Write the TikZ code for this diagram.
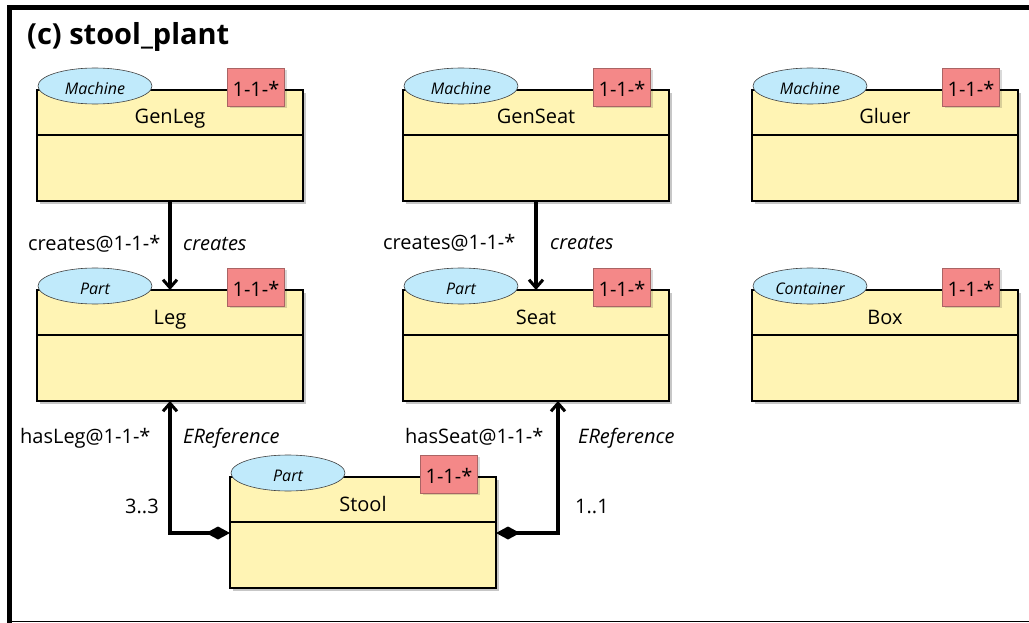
\documentclass[tikz,border=0pt]{standalone}
\usepackage{fontspec}
\setmainfont{Open Sans}
\usetikzlibrary{arrows.meta,shapes.geometric,shadows}
\definecolor{clsfill}{RGB}{255,244,180}
\definecolor{stfill}{RGB}{192,234,251}
\definecolor{tagfill}{RGB}{244,136,136}
\definecolor{tagline}{RGB}{170,100,100}
\tikzset{
  clsbox/.style={draw=black, line width=2pt, fill=clsfill, minimum width=266pt, minimum height=111pt,
    anchor=north west, inner sep=0pt, outer sep=0pt,
    drop shadow={shadow xshift=3pt, shadow yshift=-3pt, fill=black, opacity=0.22}},
  divline/.style={line width=2pt},
  clstitle/.style={font=\fontsize{20}{24}\selectfont, anchor=base, inner sep=0pt},
  stereo/.style={ellipse, draw=black!75, line width=0.6pt, fill=stfill, minimum width=114pt, minimum height=36pt,
    inner sep=0pt, text height=17pt, text depth=0pt, font=\itshape\fontsize{16}{19}\selectfont},
  tagbox/.style={rectangle, fill=tagfill, draw=tagline, line width=0.8pt, minimum width=57pt, minimum height=38pt,
    inner sep=0pt, text height=19pt, text depth=0pt, font=\fontsize{20}{24}\selectfont,
    drop shadow={shadow xshift=2pt, shadow yshift=-2pt, fill=black, opacity=0.15}},
  conn/.style={line width=3.5pt, line join=miter},
  barb/.style={-{Straight Barb[length=8pt,width=14pt,line width=3pt]}},
  lbl/.style={font=\fontsize{20}{24}\selectfont, anchor=base west, inner sep=0pt},
  ilbl/.style={font=\itshape\fontsize{20}{24}\selectfont, anchor=base west, inner sep=0pt},
  framebar/.style={line width=5pt, line cap=rect},
}
\newcommand{\umlcls}[5]{%
  \node[clsbox] (#1) at (#2,#3) {};
  \draw[divline] ([yshift=-45pt]#1.north west) -- ([yshift=-45pt]#1.north east);
  \node[clstitle] (#1-title) at ([yshift=-34pt]#1.north) {#5};
  \node[stereo] (#1-st) at ([xshift=58pt,yshift=4pt]#1.north west) {#4};
  \node[tagbox] (#1-tag) at ([xshift=-47pt,yshift=3pt]#1.north east) {1-1-*};
}
\begin{document}
\begin{tikzpicture}[x=1pt,y=-1pt]
\useasboundingbox (0,0) rectangle (1029,623);
% frame
\coordinate (fTL) at (9,7.5);
\coordinate (fTR) at (1032,7.5);
\coordinate (fBL) at (9,626);
\coordinate (fBR) at (1032,621.5);
\draw[framebar] (fBL) -- (fTL) -- (fTR);
\draw[line width=1.5pt] (fBL |- fBR) -- (fBR);
\node[font=\bfseries\fontsize{29}{34}\selectfont, anchor=base west, inner sep=0pt] (title) at (27,45) {(c) stool\_plant};
% classes
\umlcls{genleg}{37}{90}{Machine}{GenLeg}
\umlcls{genseat}{403}{90}{Machine}{GenSeat}
\umlcls{gluer}{752}{90}{Machine}{Gluer}
\umlcls{leg}{37}{290}{Part}{Leg}
\umlcls{seat}{403}{290}{Part}{Seat}
\umlcls{box}{752}{290}{Container}{Box}
\umlcls{stool}{230}{477}{Part}{Stool}
% connectors
\draw[conn, barb] (genleg.south) -- (leg.north);
\draw[conn, barb] (genseat.south) -- (seat.north);
\draw[conn, {Diamond[length=24pt,width=13pt]}-{Straight Barb[length=8pt,width=14pt,line width=3pt]}]
  ([yshift=-56pt]stool.north west) -| (leg.south);
\coordinate (seatin) at ([xshift=22pt]seat.south);
\draw[conn, {Diamond[length=24pt,width=13pt]}-{Straight Barb[length=8pt,width=14pt,line width=3pt]}]
  ([yshift=-56pt]stool.north east) -| (seatin);
% labels
\node[lbl] (c1) at (28,251) {creates@1-1-*};
\node[ilbl] (c1i) at (183,251) {creates};
\node[lbl] (c2) at (383,250) {creates@1-1-*};
\node[ilbl] (c2i) at (550,250) {creates};
\node[lbl] (h1) at (20,443) {hasLeg@1-1-*};
\node[ilbl] (h1i) at (183,443) {EReference};
\node[lbl] (h2) at (405,443) {hasSeat@1-1-*};
\node[ilbl] (h2i) at (578,443) {EReference};
\node[lbl] (m1) at (125,513) {3..3};
\node[lbl] (m2) at (575,513) {1..1};
\end{tikzpicture}
\end{document}
